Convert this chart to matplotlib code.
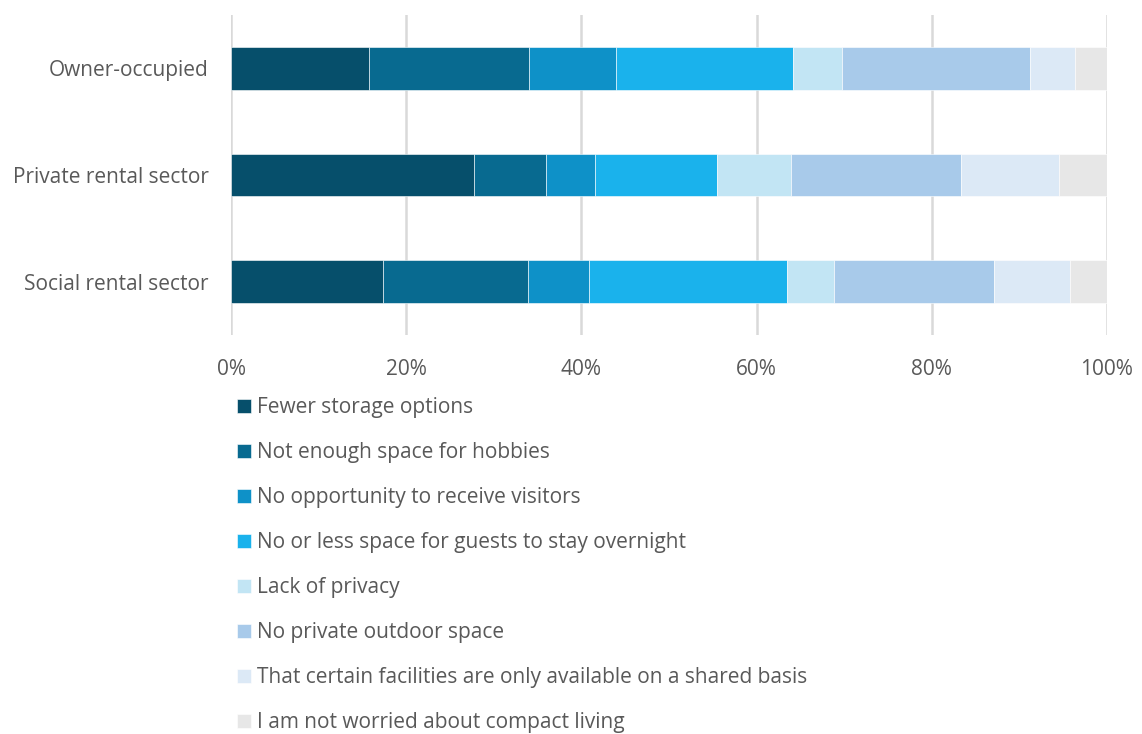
import numpy as np
import matplotlib.pyplot as plt

plt.rcParams['font.family'] = ['Open Sans', 'DejaVu Sans']

tenures = ['Owner-occupied', 'Private rental sector', 'Social rental sector']
concerns = [
    'Fewer storage options',
    'Not enough space for hobbies',
    'No opportunity to receive visitors',
    'No or less space for guests to stay overnight',
    'Lack of privacy',
    'No private outdoor space',
    'That certain facilities are only available on a shared basis',
    'I am not worried about compact living',
]
# share (%) per concern, one list per tenure
owner = [15.7, 18.3, 10.0, 20.2, 5.6, 21.4, 5.2, 3.6]
private = [27.7, 8.3, 5.6, 13.9, 8.4, 19.4, 11.2, 5.5]
social = [17.3, 16.6, 7.0, 22.6, 5.3, 18.3, 8.7, 4.2]
colors = ['#064F6B', '#086A90', '#0E91C8', '#1AB2EC',
          '#C2E5F4', '#A8CAEA', '#DCE9F6', '#E7E7E7']
x_ticks = [0, 20, 40, 60, 80, 100]
x_labels = ['0%', '20%', '40%', '60%', '80%', '100%']

values = np.array([owner, private, social])
ypos = np.arange(len(tenures))

fig = plt.figure(figsize=(11.42, 7.34), dpi=100)
ax = fig.add_axes([231 / 1142, 1 - 335 / 734, 876 / 1142, 320 / 734])

left = np.zeros(len(tenures))
handles = []
for j, name in enumerate(concerns):
    b = ax.barh(ypos, values[:, j], left=left, height=0.4, color=colors[j],
                edgecolor='white', linewidth=0.4, label=name, zorder=3)
    handles.append(b)
    left += values[:, j]

ax.set_xlim(0, 100)
ax.set_ylim(2.5, -0.5)
ax.set_xticks(x_ticks)
ax.set_xticklabels(x_labels)
ax.set_yticks(ypos)
ax.set_yticklabels(tenures)
ax.grid(axis='x', color='#D9D9D9', linewidth=1.8, zorder=0)
for s in ax.spines.values():
    s.set_visible(False)
ax.tick_params(axis='both', length=0, labelsize=15, labelcolor='#595959')
ax.tick_params(axis='x', pad=17.5)
ax.tick_params(axis='y', pad=16)

fig.legend(handles=handles, loc='upper left', bbox_to_anchor=(237 / 1142, 1 - 397 / 734),
           frameon=False, fontsize=15, labelcolor='#595959',
           handlelength=0.65, handleheight=0.65, handletextpad=0.3,
           labelspacing=1.155, borderaxespad=0, borderpad=0)

fig.savefig('out.png', dpi=100)
